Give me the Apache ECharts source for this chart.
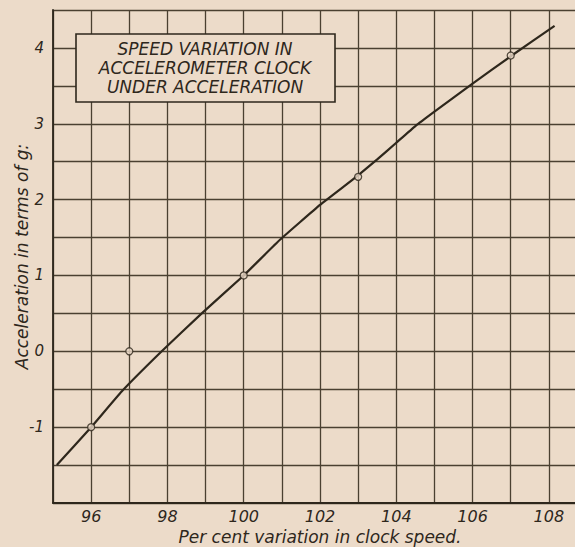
<!DOCTYPE html>
<html>
<head>
<meta charset="utf-8">
<script src="https://cdn.jsdelivr.net/npm/echarts@6/dist/echarts.min.js"></script>
<style>
html,body{margin:0;padding:0;background:#ecdbc9;}
#chart{width:575px;height:547px;}
</style>
</head>
<body>
<div id="chart"></div>
<script>
// Curve traced through the drawing (per cent clock speed, acceleration in g)
var curveSpeed = [95.1, 96.0, 96.8, 97.85, 98.9, 100.0, 100.95, 102.0, 102.95, 103.5, 104.0, 104.5, 105.0, 106.0, 107.0, 108.15];
var curveAccel = [-1.5, -1.0, -0.53, 0.0, 0.5, 1.0, 1.47, 1.93, 2.3, 2.53, 2.75, 2.97, 3.16, 3.53, 3.89, 4.29];
// Observed points (open circles)
var pointSpeed = [96, 97, 100, 103, 107];
var pointAccel = [-1.0, 0.0, 1.0, 2.3, 3.9];
// Tick labels
var xTickLabels = [96, 98, 100, 102, 104, 106, 108];
var yTickLabels = [-1, 0, 1, 2, 3, 4];
var titleLines = ['SPEED VARIATION IN', 'ACCELEROMETER CLOCK', 'UNDER ACCELERATION'];
var xName = 'Per cent variation in clock speed.';
var yName = 'Acceleration in terms of g:';

var BG = '#ecdbc9';
var INK = '#2e271c';
var GRID = '#4a4031';
var FONT = 'DejaVu Sans';

var chart = echarts.init(document.getElementById('chart'), null, {renderer: 'svg'});

var curveData = curveSpeed.map(function (x, i) { return [x, curveAccel[i]]; });
var pointData = pointSpeed.map(function (x, i) { return [x, pointAccel[i]]; });

chart.setOption({
  backgroundColor: BG,
  animation: false,
  grid: {left: 53, top: 10, width: 534, bottom: 44, containLabel: false, outerBoundsMode: 'none'},
  xAxis: {
    type: 'value', min: 95, max: 109, interval: 1,
    name: xName, nameLocation: 'middle', nameGap: 25, nameMoveOverlap: false,
    nameTextStyle: {fontFamily: FONT, fontStyle: 'oblique', fontSize: 17, color: INK},
    axisLine: {show: true, onZero: false, lineStyle: {color: INK, width: 1.8}},
    axisTick: {show: false},
    axisLabel: {
      fontFamily: FONT, fontStyle: 'oblique', fontSize: 16, color: INK, margin: 5,
      formatter: function (v) { return xTickLabels.indexOf(v) >= 0 ? String(v) : ''; }
    },
    splitLine: {show: true, lineStyle: {color: GRID, width: 1.3}}
  },
  yAxis: {
    type: 'value', min: -2, max: 4.5, interval: 0.5,
    name: yName, nameLocation: 'middle', nameGap: 23, nameMoveOverlap: false,
    nameTextStyle: {fontFamily: FONT, fontStyle: 'oblique', fontSize: 17, color: INK},
    axisLine: {show: true, onZero: false, lineStyle: {color: INK, width: 1.8}},
    axisTick: {show: false},
    axisLabel: {
      fontFamily: FONT, fontStyle: 'oblique', fontSize: 15, color: INK, margin: 9,
      formatter: function (v) { return yTickLabels.indexOf(v) >= 0 ? String(v) : ''; }
    },
    splitLine: {show: true, lineStyle: {color: GRID, width: 1.3}}
  },
  graphic: [
    {type: 'rect', z: 100, shape: {x: 76, y: 34, width: 259, height: 68},
     style: {fill: BG, stroke: INK, lineWidth: 1.6}},
    {type: 'text', z: 101, x: 205, y: 68,
     style: {text: titleLines.join('\n'), fill: INK, font: 'oblique 17px "DejaVu Sans"',
             textAlign: 'center', textVerticalAlign: 'middle', lineHeight: 19}}
  ],
  series: [
    {type: 'line', data: curveData, smooth: 0.1, symbol: 'none',
     lineStyle: {color: INK, width: 2.2}, z: 3},
    {type: 'scatter', data: pointData, symbol: 'circle', symbolSize: 7,
     itemStyle: {color: BG, borderColor: INK, borderWidth: 1.3}, z: 4}
  ]
});
</script>
</body>
</html>
